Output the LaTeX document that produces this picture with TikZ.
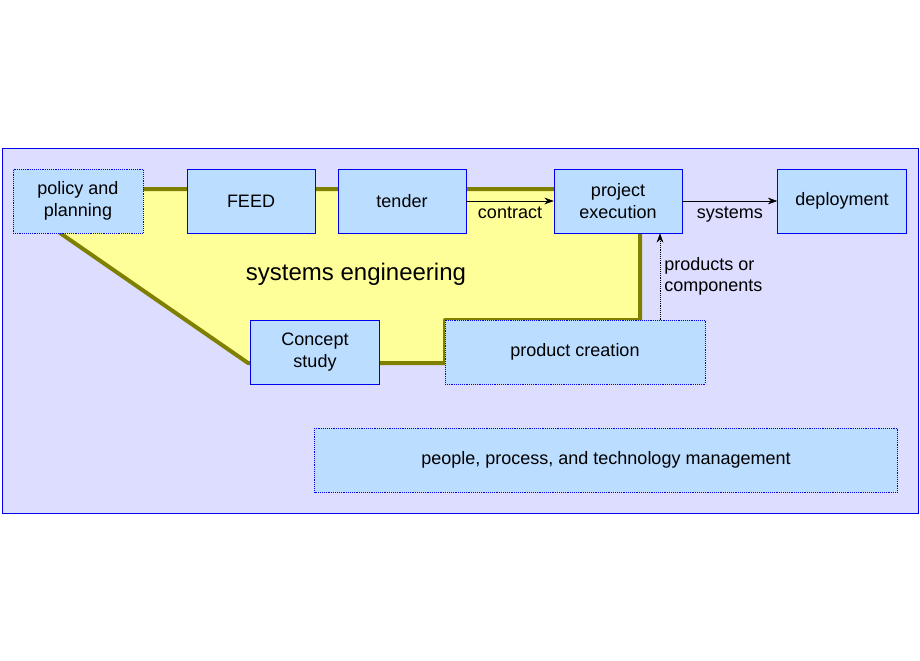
\documentclass[tikz,border=0pt]{standalone}
\usepackage{fontspec}
\setmainfont{Liberation Sans}
\usetikzlibrary{arrows.meta}
\definecolor{bgpanel}{HTML}{DDDDFF}
\definecolor{boxfill}{HTML}{BBDDFF}
\definecolor{boxline}{HTML}{0000EE}
\definecolor{sefill}{HTML}{FFFF99}
\definecolor{seline}{HTML}{808000}
\begin{document}
\begin{tikzpicture}[x=0.75pt,y=-0.75pt,
    box/.style={draw=boxline,fill=boxfill,align=center,inner sep=0pt,
        font=\fontsize{13.5}{16}\selectfont},
    dotbox/.style={box,densely dotted},
    lbl/.style={font=\fontsize{13.5}{16}\selectfont,align=left,inner sep=1pt},
    flow/.style={-{Stealth[length=7pt,width=5pt]},thin}
]
\useasboundingbox (0,0) rectangle (920,660);
\draw[boxline,fill=bgpanel] (2,148) rectangle (918,513);
% systems engineering area
\draw[seline,fill=sefill,line width=3pt,line join=round]
    (60,233) -- (60,189) -- (640,189) -- (640,320) -- (445,320)
    -- (445,363) -- (248,363) -- cycle;
\node[font=\fontsize{18}{22}\selectfont] (se) at (356,274) {systems engineering};
% activities
\node[dotbox,minimum width=130*0.75pt,minimum height=64*0.75pt] (policy) at (78,201) {policy and\\planning};
\node[box,minimum width=128*0.75pt,minimum height=64*0.75pt] (feed) at (251,201) {FEED};
\node[box,minimum width=128*0.75pt,minimum height=64*0.75pt] (tender) at (402,201) {tender};
\node[box,minimum width=128*0.75pt,minimum height=64*0.75pt] (exec) at (618,201) {project\\execution};
\node[box,minimum width=129*0.75pt,minimum height=64*0.75pt] (deploy) at (842,201) {deployment};
\node[box,minimum width=129*0.75pt,minimum height=64*0.75pt] (concept) at (315,352) {Concept\\study};
\node[dotbox,minimum width=260*0.75pt,minimum height=64*0.75pt] (product) at (575,352) {product creation};
\node[dotbox,minimum width=583*0.75pt,minimum height=64*0.75pt] (ppt) at (606,460) {people, process, and technology management};
% connectors
\draw[flow] (tender) -- (exec) node[midway,below,lbl,yshift=-3pt] {contract};
\draw[flow] (exec) -- (deploy) node[midway,below,lbl,yshift=-3pt] {systems};
\coordinate (pc) at (660,320);
\draw[flow,densely dotted] (pc) -- (pc |- exec.south)
    node[midway,right,lbl,xshift=2pt] {products or\\components};
\end{tikzpicture}
\end{document}
